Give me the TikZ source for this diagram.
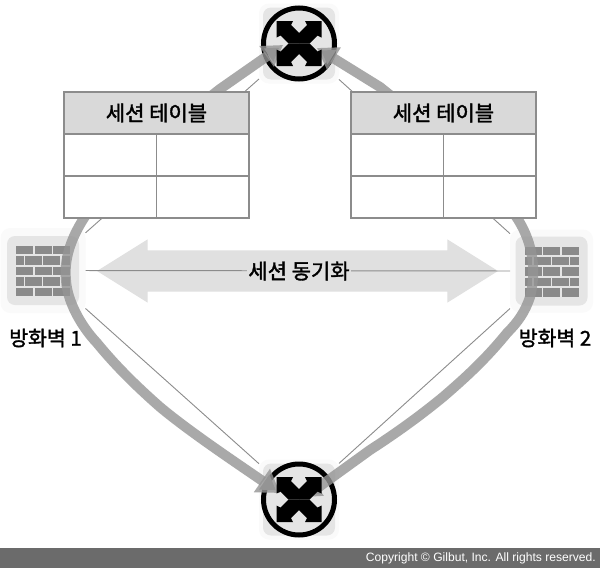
\documentclass[tikz,border=0pt]{standalone}
\usepackage{fontspec}
\setmainfont[FakeBold=1.6]{Noto Sans CJK KR}
\newfontfamily\copyfont{Liberation Sans}
\usetikzlibrary{positioning, shapes.arrows, arrows.meta}
\definecolor{iconrim}{gray}{0.98}
\definecolor{iconfill}{gray}{0.90}
\definecolor{brick}{gray}{0.54}
\definecolor{rule}{gray}{0.55}
\tikzstyle{iconbox} = [rectangle, rounded corners=10pt, fill=iconrim, minimum width=80pt, minimum height=80pt, outer sep=0pt]
\tikzstyle{iconcore} = [rectangle, rounded corners=8pt, fill=iconfill, minimum width=72pt, minimum height=69pt]
\tikzstyle{switch} = [circle, draw=black, line width=5pt, fill=iconfill, minimum size=71pt, inner sep=0pt]
\tikzstyle{head} = [rectangle, draw=rule, line width=1.2pt, fill=black!15, minimum width=92.5pt, minimum height=42pt, inner sep=0pt, outer sep=0pt, font=\fontsize{21pt}{23pt}\selectfont]
\tikzstyle{cell} = [rectangle, draw=rule, line width=1.2pt, fill=white, minimum width=92.5pt, minimum height=42pt, inner sep=0pt, outer sep=0pt]
\tikzstyle{trunk} = [line width=10pt, draw=black!42, draw opacity=0.8]
\tikzstyle{thinline} = [draw=rule, line width=0.9pt]
\tikzstyle{label} = [font=\fontsize{21pt}{23pt}\selectfont, inner sep=0pt]
% four arrows through one centre
\newcommand{\crossmark}[1]{
	\begin{scope}[shift={(#1)}]
		\foreach \ang in {0,90,180,270}
			\fill[black, rotate=\ang] (0,-10.5) -- (8,-18.5) -- (6,-22.5) -- (22.5,-22.5) -- (22.5,-6) -- (18.5,-8) -- (10.5,0) -- (0,0) -- cycle;
	\end{scope}}
% five rows of bricks
\newcommand{\brickwall}[1]{
	\begin{scope}[shift={(#1)}]
		\foreach \row in {0,2,4}
			\foreach \col in {0,1,2}
				\fill[brick] (-27+18.5*\col,-24.5+10.4*\row) rectangle ++(17,8.4);
		\foreach \row in {1,3} {
			\fill[brick] (-27,-24.5+10.4*\row) rectangle ++(7.5,8.4);
			\fill[brick] (-18,-24.5+10.4*\row) rectangle ++(17,8.4);
			\fill[brick] (0,-24.5+10.4*\row) rectangle ++(17,8.4);
			\fill[brick] (18.5,-24.5+10.4*\row) rectangle ++(8.5,8.4);
		}
	\end{scope}}

\begin{document}
\begin{tikzpicture}[x=1pt, y=-1pt]
	\useasboundingbox (0,0) rectangle (600,568);
	\fill[white] (0,0) rectangle (600,568);

	% icons
	\node[iconbox, minimum width=85pt, minimum height=85pt] (fwA) at (43,270.5) {};
	\node[iconcore] (fwAcore) at (fwA) {};
	\node[iconbox, minimum width=83pt, minimum height=83pt] (fwB) at (551.5,271) {};
	\node[iconcore] (fwBcore) at (fwB) {};
	\brickwall{fwA}
	\brickwall{fwB}
	\node[iconbox] (swTop) at (299,43.5) {};
	\node[iconcore, minimum height=72pt] (swTopcore) at (swTop) {};
	\node[iconbox] (swBot) at (299,499.5) {};
	\node[iconcore, minimum height=72pt] (swBotcore) at (swBot) {};
	\node[switch] (swTopring) at (swTop) {};
	\node[switch] (swBotring) at (swBot) {};

	% thin links
	\draw[thinline] (fwA) -- (swTop);
	\draw[thinline] (fwA) -- (swBot);
	\draw[thinline] (fwB) -- (swTop);
	\draw[thinline] (fwB) -- (swBot);

	% sync arrow
	\node[double arrow, fill=black!12, minimum height=401pt, minimum width=63pt, double arrow head extend=11pt, double arrow tip angle=64, inner xsep=0pt, inner ysep=20.5pt] (syncArrow) at (297.5,271) {};
	\draw[thinline] (fwA) -- (fwB);
	\node[label, fill=black!12, inner xsep=1pt, inner ysep=2pt] (syncLabel) at (299,271) {세션 동기화};

	% trunks
	\coordinate (tipTL) at (283,45);
	\coordinate (tipBL) at (280,493);
	\coordinate (tipTR) at (317,48);
	\coordinate (tipBR) at (305,497);
	\draw[trunk, {Triangle[width=24pt, length=20pt]}-{Triangle[width=27pt, length=22pt]}] (tipTL) -- (220,89) .. controls (170,128) and (105,185) .. (84,218) .. controls (70,240) and (64,260) .. (66,280) .. controls (67,300) and (80,325) .. (97,343) .. controls (115,365) and (135,385) .. (160,407) .. controls (190,432) and (235,462) .. (tipBL);
	\draw[trunk, {Triangle[width=25pt, length=20pt]}-{Triangle[width=19pt, length=16pt]}] (tipTR) -- (380,87) .. controls (440,135) and (495,185) .. (517,218) .. controls (530,238) and (538,265) .. (530,297) .. controls (525,312) and (518,322) .. (507,333) .. controls (485,360) and (465,378) .. (443,397) .. controls (415,420) and (390,437) .. (370,450) -- (tipBR);
	\crossmark{swTop}
	\crossmark{swBot}

	% session tables
	\foreach \tab/\xpos in {A/64, B/351} {
		\node[head, minimum width=185pt, anchor=north west] (tab\tab) at (\xpos,92) {세션 테이블};
		\node[cell, anchor=north west] (tab\tab a) at (tab\tab.south west) {};
		\node[cell, right=0pt of tab\tab a] (tab\tab b) {};
		\node[cell, below=0pt of tab\tab a] (tab\tab c) {};
		\node[cell, right=0pt of tab\tab c] (tab\tab d) {};
	}

	% labels
	\node[label, font=\fontsize{20.5pt}{23pt}\selectfont] (fwAlabel) at (45.5,338) {방화벽 1};
	\node[label, font=\fontsize{20.5pt}{23pt}\selectfont] (fwBlabel) at (555,338) {방화벽 2};

	% footer
	\fill[black!58] (0,548) rectangle (600,568);
	\node[anchor=east, inner sep=0pt, text=white, font=\copyfont\fontsize{12.1pt}{14pt}\selectfont] (copyright) at (596,558) {Copyright © Gilbut, Inc. All rights reserved.};
\end{tikzpicture}
\end{document}
